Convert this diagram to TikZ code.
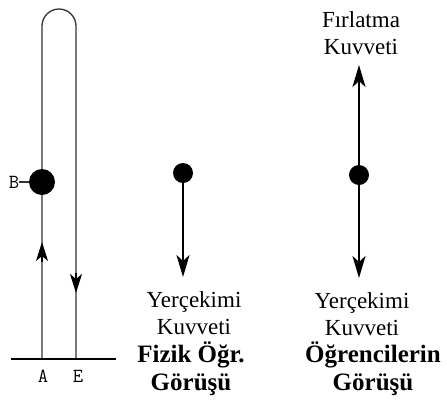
\documentclass[tikz,border=0pt]{standalone}
\usepackage{fontspec}
\setmainfont{Liberation Serif}
\usetikzlibrary{arrows.meta}
\begin{document}
\begin{tikzpicture}[x=1pt,y=-1pt,
  thinline/.style={draw=black!80,line width=1.3pt},
  thickline/.style={draw=black,line width=2.6pt},
  ball/.style={circle,fill=black,inner sep=0pt},
  headtip/.style={-{Stealth[length=22pt,width=13pt,inset=6pt]}},
  smalltip/.style={-{Stealth[length=19pt,width=12pt,inset=5pt]}},
  lbl/.style={font=\fontsize{23}{27}\selectfont,align=center,inner sep=0pt},
  bold/.style={font=\fontsize{25}{28}\selectfont\bfseries,align=center,inner sep=0pt},
  mono/.style={font=\fontsize{20}{22}\ttfamily,inner sep=0pt}
]
\useasboundingbox[fill=white] (0,0) rectangle (447,416);
% left figure
\coordinate (la) at (42,359);
\coordinate (ea) at (76,359);
\draw[thinline] (la) -- (42,26) arc[start angle=180,end angle=360,radius=17] -- (ea);
\node[ball,minimum size=26pt] (bB) at (42,182) {};
\node[mono] (tB) at (14,182) {B};
\draw[thinline] (tB.east) -- (bB.west);
\coordinate (up1) at (42,262);
\coordinate (up2) at (42,242);
\draw[black,line width=1.3pt,smalltip] (up1) -- (up2);
\coordinate (dn1) at (76,273);
\coordinate (dn2) at (76,293);
\draw[black,line width=1.3pt,smalltip] (dn1) -- (dn2);
\coordinate (g1) at (11,359);
\coordinate (g2) at (116,359);
\draw[black,line width=2.4pt] (g1) -- (g2);
\node[mono] (tA) at (43,376) {A};
\node[mono] (tE) at (78,376) {E};
% middle
\node[ball,minimum size=20pt] (mball) at (183,173) {};
\coordinate (mtip) at (183,277);
\draw[thickline,headtip] (mball.center) -- (mtip);
\node[lbl] (my) at (194,313) {Yerçekimi\\Kuvveti};
\node[bold] (mf) at (191,369) {Fizik Öğr.\\Görüşü};
% right
\node[ball,minimum size=20pt] (rball) at (359,175) {};
\coordinate (rtop) at (359,65);
\coordinate (rbot) at (359,278);
\draw[thickline,headtip] (rball.center) -- (rtop);
\draw[thickline,headtip] (rball.center) -- (rbot);
\node[lbl] (rf) at (361,33) {Fırlatma\\Kuvveti};
\node[lbl] (ry) at (362,314) {Yerçekimi\\Kuvveti};
\node[bold] (ro) at (373,369) {Öğrencilerin\\Görüşü};
\end{tikzpicture}
\end{document}
